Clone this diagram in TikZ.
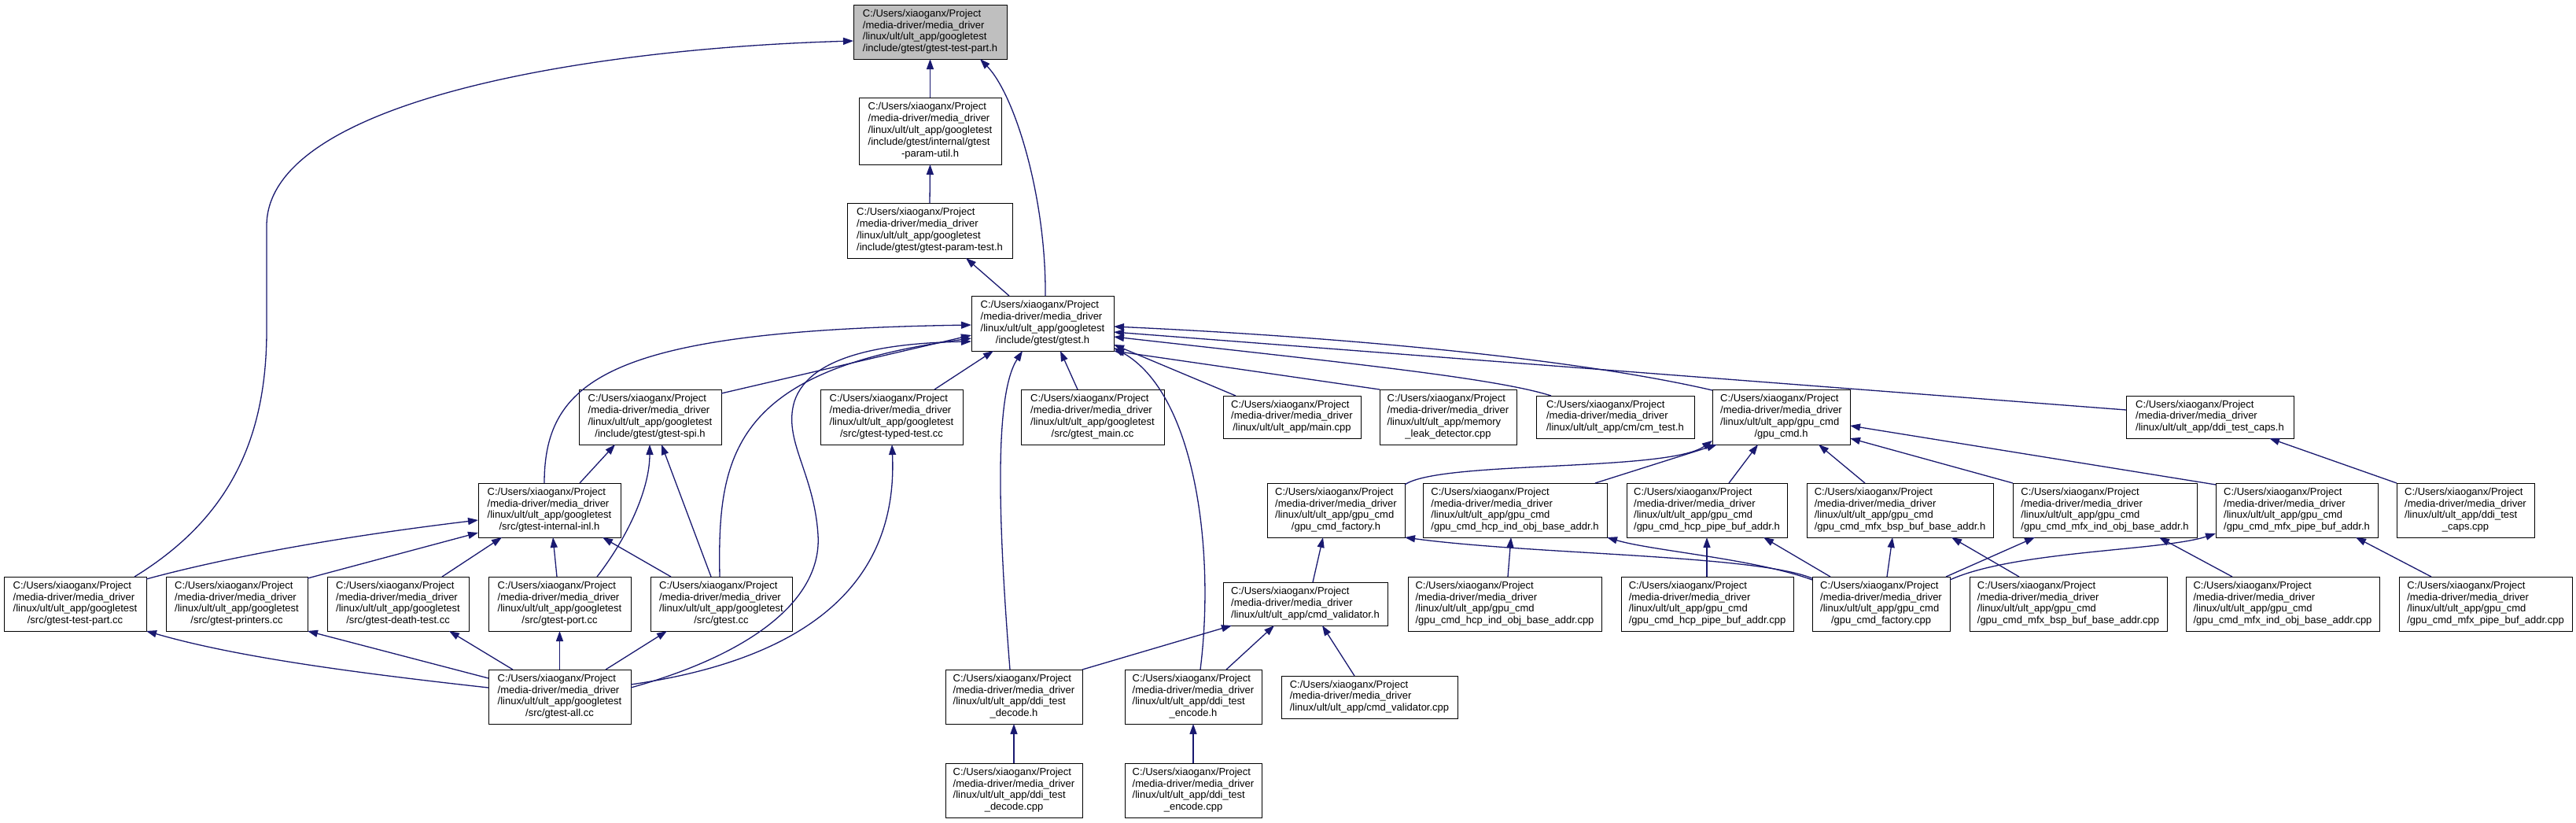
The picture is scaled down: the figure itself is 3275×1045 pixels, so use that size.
\documentclass[tikz,border=0pt]{standalone}
\usepackage{fontspec}
\setmainfont{Liberation Sans}
\usetikzlibrary{arrows.meta,calc}
\definecolor{navy}{HTML}{191970}
\definecolor{hlgray}{HTML}{BFBFBF}
\newcommand{\tb}[2]{\begin{tabular}{@{}l@{}}#1\\\multicolumn{1}{@{}c@{}}{#2}\end{tabular}}
\newcommand{\Pa}{C:/Users/xiaoganx/Project\\/media-driver/media\_driver}
\newcommand{\Gt}{\Pa\\/linux/ult/ult\_app/googletest}
\newcommand{\Gc}{\Pa\\/linux/ult/ult\_app/gpu\_cmd}
\newcommand{\Dt}{\Pa\\/linux/ult/ult\_app/ddi\_test}
\newcommand{\bx}[6][]{\node[box,#1,minimum width={(#5)-(#3)},minimum height={(#6)-(#4)}] (#2) at ({((#3)+(#5))/2},{((#4)+(#6))/2})}
\tikzset{
  box/.style={draw=black,fill=white,line width=1pt,inner sep=0pt,outer sep=0pt,
    font=\fontsize{13}{14.8}\selectfont},
  dep/.style={draw=navy,line width=1.3pt,-{Triangle[length=13pt,width=9pt]}}
}
\begin{document}
\begin{tikzpicture}[x=1pt,y=-1pt]
\fill[white] (0,0) rectangle (3275,1045);
\useasboundingbox (0,0) rectangle (3275,1045);
% nodes
\bx[fill=hlgray]{tph}{1085}{6}{1280}{75}{\tb{\Gt}{/include/gtest/gtest-test-part.h}};
\bx{pu}{1092}{124}{1273}{209}{\tb{\Gt\\/include/gtest/internal/gtest}{-param-util.h}};
\bx{ptst}{1077}{258}{1287}{328}{\tb{\Gt}{/include/gtest/gtest-param-test.h}};
\bx{gh}{1235}{376}{1416}{446}{\tb{\Gt}{/include/gtest/gtest.h}};
\bx{spi}{736}{495}{917}{565}{\tb{\Gt}{/include/gtest/gtest-spi.h}};
\bx{tt}{1043}{495}{1224}{565}{\tb{\Gt}{/src/gtest-typed-test.cc}};
\bx{gm}{1298}{495}{1480}{565}{\tb{\Gt}{/src/gtest\_main.cc}};
\bx{mcpp}{1555}{503}{1730}{557}{\tb{\Pa}{/linux/ult/ult\_app/main.cpp}};
\bx{mem}{1754}{495}{1928}{565}{\tb{\Pa\\/linux/ult/ult\_app/memory}{\_leak\_detector.cpp}};
\bx{cm}{1953}{503}{2154}{557}{\tb{\Pa}{/linux/ult/ult\_app/cm/cm\_test.h}};
\bx{gc}{2177}{495}{2352}{565}{\tb{\Gc}{/gpu\_cmd.h}};
\bx{caps}{2703}{503}{2916}{557}{\tb{\Pa}{/linux/ult/ult\_app/ddi\_test\_caps.h}};
\bx{inl}{608}{614}{789}{683}{\tb{\Gt}{/src/gtest-internal-inl.h}};
\bx{fh}{1611}{614}{1786}{683}{\tb{\Gc}{/gpu\_cmd\_factory.h}};
\bx{hih}{1809}{614}{2043}{683}{\tb{\Gc}{/gpu\_cmd\_hcp\_ind\_obj\_base\_addr.h}};
\bx{hph}{2068}{614}{2272}{683}{\tb{\Gc}{/gpu\_cmd\_hcp\_pipe\_buf\_addr.h}};
\bx{bsh}{2297}{614}{2534}{683}{\tb{\Gc}{/gpu\_cmd\_mfx\_bsp\_buf\_base\_addr.h}};
\bx{mih}{2559}{614}{2793}{683}{\tb{\Gc}{/gpu\_cmd\_mfx\_ind\_obj\_base\_addr.h}};
\bx{mph}{2817}{614}{3023}{683}{\tb{\Gc}{/gpu\_cmd\_mfx\_pipe\_buf\_addr.h}};
\bx{capc}{3047}{614}{3222}{683}{\tb{\Dt}{\_caps.cpp}};
\bx{tpc}{5}{733}{186}{802}{\tb{\Gt}{/src/gtest-test-part.cc}};
\bx{prc}{211}{733}{391}{802}{\tb{\Gt}{/src/gtest-printers.cc}};
\bx{dtc}{416}{733}{596}{802}{\tb{\Gt}{/src/gtest-death-test.cc}};
\bx{poc}{621}{733}{802}{802}{\tb{\Gt}{/src/gtest-port.cc}};
\bx{gcc}{827}{733}{1007}{802}{\tb{\Gt}{/src/gtest.cc}};
\bx{cv}{1555}{740}{1764}{795}{\tb{\Pa}{/linux/ult/ult\_app/cmd\_validator.h}};
\bx{hic}{1790}{733}{2036}{802}{\tb{\Gc}{/gpu\_cmd\_hcp\_ind\_obj\_base\_addr.cpp}};
\bx{hpc}{2061}{733}{2280}{802}{\tb{\Gc}{/gpu\_cmd\_hcp\_pipe\_buf\_addr.cpp}};
\bx{fc}{2304}{733}{2479}{802}{\tb{\Gc}{/gpu\_cmd\_factory.cpp}};
\bx{bsc}{2504}{733}{2755}{802}{\tb{\Gc}{/gpu\_cmd\_mfx\_bsp\_buf\_base\_addr.cpp}};
\bx{mic}{2779}{733}{3025}{802}{\tb{\Gc}{/gpu\_cmd\_mfx\_ind\_obj\_base\_addr.cpp}};
\bx{mpc}{3050}{733}{3270}{802}{\tb{\Gc}{/gpu\_cmd\_mfx\_pipe\_buf\_addr.cpp}};
\bx{all}{621}{851}{802}{920}{\tb{\Gt}{/src/gtest-all.cc}};
\bx{dh}{1202}{851}{1376}{920}{\tb{\Dt}{\_decode.h}};
\bx{eh}{1430}{851}{1604}{920}{\tb{\Dt}{\_encode.h}};
\bx{cvc}{1629}{859}{1853}{913}{\tb{\Pa}{/linux/ult/ult\_app/cmd\_validator.cpp}};
\bx{dc}{1202}{970}{1376}{1039}{\tb{\Dt}{\_decode.cpp}};
\bx{ec}{1430}{970}{1604}{1039}{\tb{\Dt}{\_encode.cpp}};
% edges
\draw[dep] (pu.north) -- (tph.south);
\draw[dep] (ptst.north) -- (pu.south);
\draw[dep] ($(gh.north west)+(48,0)$) -- ($(ptst.north west)+(151,70)$);
\draw[dep] ($(gh.north west)+(94,0)$) .. controls (1330,250) and (1290,120) .. ($(tph.north west)+(161,69)$);
\draw[dep] ($(tpc.north west)+(166,0)$) .. controls (290,660) and (339,560) .. (339,420) -- (339,287) .. controls (339,130) and (740,62) .. ($(tph.north west)+(0,46)$);
\draw[dep] ($(spi.north west)+(181,5)$) -- ($(gh.north west)+(0,50)$);
\draw[dep] ($(inl.north west)+(84,0)$) .. controls (692,480) and (780,420) .. ($(gh.north west)+(0,37)$);
\draw[dep] ($(tt.north west)+(145,0)$) -- ($(gh.north west)+(28,70)$);
\draw[dep] ($(gm.north west)+(72,0)$) -- ($(gh.north west)+(113,70)$);
\draw[dep] ($(dh.north west)+(82,0)$) .. controls (1268,650) and (1265,500) .. ($(gh.north west)+(65,70)$);
\draw[dep] ($(eh.north west)+(96,0)$) .. controls (1545,700) and (1520,500) .. ($(gh.north west)+(181,66)$);
\draw[dep] ($(mcpp.north west)+(16,0)$) -- ($(gh.north west)+(181,62)$);
\draw[dep] (mem.north west) -- (gh.south east);
\draw[dep] ($(cm.north west)+(19,0)$) .. controls (1900,480) and (1700,460) .. ($(gh.north west)+(181,52)$);
\draw[dep] ($(gc.north west)+(0,1)$) .. controls (2000,455) and (1700,428) .. ($(gh.north west)+(181,39)$);
\draw[dep] ($(caps.north west)+(0,18)$) -- ($(gh.north west)+(181,46)$);
\draw[dep] ($(gcc.north west)+(88,0)$) .. controls (912,580) and (930,470) .. ($(gh.north west)+(0,54)$);
\draw[dep] ($(all.north west)+(181,23)$) .. controls (960,830) and (1045,760) .. (1040,680) .. controls (1035,600) and (995,560) .. (1010,510) .. controls (1030,450) and (1130,436) .. ($(gh.north west)+(0,58)$);
\draw[dep] ($(all.north west)+(181,19)$) .. controls (1080,830) and (1140,700) .. ($(tt.north west)+(91,70)$);
\draw[dep] ($(inl.north west)+(129,0)$) -- ($(spi.north west)+(46,70)$);
\draw[dep] ($(poc.north west)+(138,0)$) .. controls (800,680) and (826,620) .. ($(spi.north west)+(90,70)$);
\draw[dep] ($(gcc.north west)+(77,0)$) -- ($(spi.north west)+(105,70)$);
\draw[dep] ($(tpc.north west)+(181,3)$) .. controls (300,705) and (450,680) .. ($(inl.north west)+(0,47)$);
\draw[dep] ($(prc.north west)+(180,2)$) -- ($(inl.north west)+(0,63)$);
\draw[dep] ($(dtc.north west)+(146,0)$) -- ($(inl.north west)+(30,69)$);
\draw[dep] ($(poc.north west)+(87,0)$) -- ($(inl.north west)+(95,69)$);
\draw[dep] ($(gcc.north west)+(26,0)$) -- ($(inl.north west)+(158,69)$);
\draw[dep] ($(all.north west)+(0,23)$) .. controls (450,855) and (300,835) .. (tpc.south east);
\draw[dep] ($(all.north west)+(0,11)$) -- ($(prc.north west)+(180,69)$);
\draw[dep] ($(all.north west)+(31,0)$) -- ($(dtc.north west)+(155,69)$);
\draw[dep] (all.north) -- (poc.south);
\draw[dep] ($(all.north west)+(149,0)$) -- ($(gcc.north west)+(21,69)$);
\draw[dep] (dh.north east) -- ($(cv.north west)+(11,55)$);
\draw[dep] ($(eh.north west)+(129,0)$) -- ($(cv.north west)+(65,55)$);
\draw[dep] ($(cvc.north west)+(93,0)$) -- ($(cv.north west)+(126,55)$);
\draw[dep] ($(cv.north west)+(114,0)$) -- ($(fh.north west)+(71,69)$);
\draw[dep] (dc.north) -- (dh.south);
\draw[dep] (ec.north) -- (eh.south);
\draw[dep] ($(fh.north west)+(175,2)$) .. controls (1830,585) and (2120,600) .. ($(gc.north west)+(0,65)$);
\draw[dep] ($(hih.north west)+(219,0)$) -- ($(gc.north west)+(6,70)$);
\draw[dep] ($(hph.north west)+(130,0)$) -- ($(gc.north west)+(58,70)$);
\draw[dep] ($(bsh.north west)+(74,0)$) -- ($(gc.north west)+(135,70)$);
\draw[dep] (mih.north west) -- ($(gc.north west)+(175,62)$);
\draw[dep] ($(mph.north west)+(0,2)$) -- ($(gc.north west)+(175,46)$);
\draw[dep] (capc.north west) -- ($(caps.north west)+(182,54)$);
\draw[dep] ($(hic.north west)+(127,0)$) -- ($(hih.north west)+(112,69)$);
\draw[dep] ($(hpc.north west)+(109,0)$) -- ($(hph.north west)+(102,69)$);
\draw[dep] ($(fc.north west)+(0,2)$) .. controls (2230,705) and (1950,705) .. (fh.south east);
\draw[dep] ($(fc.north west)+(0,4)$) .. controls (2230,710) and (2100,700) .. (hih.south east);
\draw[dep] ($(fc.north west)+(23,0)$) -- ($(hph.north west)+(174,69)$);
\draw[dep] ($(fc.north west)+(95,0)$) -- ($(bsh.north west)+(109,69)$);
\draw[dep] ($(fc.north west)+(170,0)$) -- ($(mih.north west)+(28,69)$);
\draw[dep] ($(fc.north west)+(175,4)$) .. controls (2560,700) and (2750,700) .. ($(mph.north west)+(0,64)$);
\draw[dep] ($(bsc.north west)+(63,0)$) -- ($(bsh.north west)+(184,69)$);
\draw[dep] ($(mic.north west)+(59,0)$) -- ($(mih.north west)+(186,69)$);
\draw[dep] ($(mpc.north west)+(41,0)$) -- ($(mph.north west)+(178,69)$);
\end{tikzpicture}
\end{document}
